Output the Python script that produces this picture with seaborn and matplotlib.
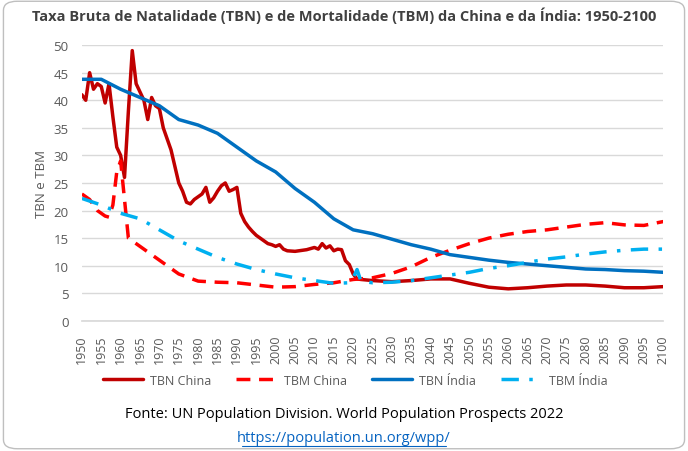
import matplotlib
matplotlib.use("Agg")
import matplotlib.pyplot as plt
import seaborn as sns
from matplotlib.patches import FancyBboxPatch

sns.set_theme(style="white")
plt.rcParams['font.family'] = ['Open Sans', 'DejaVu Sans']

cn_b_years = [1950,1951,1952,1953,1954,1955,1956,1957,1958,1959,1960,1961,1962,1963,1964,1965,1966,1967,1968,1969,
              1970,1971,1972,1973,1974,1975,1976,1977,1978,1979,1980,1981,1982,1983,1984,1985,1986,1987,1988,1989,
              1990,1991,1992,1993,1994,1995,1996,1997,1998,1999,2000,2001,2002,2003,2005,2008,2010,2011,2012,2013,
              2014,2015,2016,2017,2018,2019,2020,2021,2022,2025,2030,2035,2040,2045,2050,2055,2060,2065,2070,2075,
              2080,2085,2090,2095,2100]
cn_b = [41,40,45,42,43,42.5,39.5,43,37,31.5,30,26,38,49,43,41.5,40,36.5,40.5,39,
        38.5,35,33,31,28,25,23.5,21.5,21.2,22,22.5,23,24.2,21.5,22.3,23.5,24.5,25,23.5,23.8,
        24.2,19.5,18,17,16.2,15.5,15,14.5,14,13.8,13.5,13.8,13,12.7,12.6,12.9,13.3,13.0,14.0,13.2,
        13.6,12.7,13.0,12.9,10.9,10.2,8.5,7.6,7.5,7.3,7.1,7.3,7.6,7.6,6.8,6.1,5.8,6.0,6.3,6.5,
        6.5,6.3,6.0,6.0,6.2]
cn_d_years = [1950,1952,1954,1956,1957,1958,1959,1960,1961,1962,1963,1965,1970,1975,1980,1985,1990,1995,2000,2005,
              2010,2015,2020,2025,2030,2035,2040,2045,2050,2055,2060,2065,2070,2075,2080,2085,2090,2095,2100]
cn_d = [23,22,20,19,18.8,21,27,29,22,15,14.5,13.5,11,8.5,7.2,7.0,6.9,6.5,6.1,6.2,
        6.6,6.9,7.5,7.8,8.6,9.8,11.5,12.8,14,15,15.7,16.2,16.5,17,17.5,17.8,17.4,17.3,18]
in_b_years = list(range(1950, 2101, 5))
in_b = [43.8,43.8,42,40.5,39,36.5,35.5,34,31.5,29,27,24,21.5,18.5,16.5,15.8,14.8,13.8,13,12,
        11.5,11,10.6,10.3,10,9.7,9.4,9.3,9.1,9,8.8]
in_d_years = [1950,1955,1960,1965,1970,1975,1980,1985,1990,1995,2000,2005,2010,2015,2019,2020,2021,2022,2025,2030,
              2035,2040,2045,2050,2055,2060,2065,2070,2075,2080,2085,2090,2095,2100]
in_d = [22.2,21,19.5,18.5,16.5,14.5,13,11.5,10.3,9.3,8.5,7.8,7.3,6.8,6.9,7.8,9.3,7.2,6.9,7,
        7.3,7.8,8.3,8.8,9.5,10,10.6,11.2,11.6,12.1,12.5,12.8,13,13]

fig = plt.figure(figsize=(6.88, 4.52), dpi=100)
fig.patches.append(FancyBboxPatch((0.005, 0.005), 0.99, 0.99, boxstyle="round,pad=0,rounding_size=0.02",
                                  transform=fig.transFigure, fill=False, edgecolor="#bfbfbf", lw=1))
ax = fig.add_axes([0.119, 0.288, 0.845, 0.61])

series = [("TBN China", cn_b_years, cn_b, "#c00000", "-"),
          ("TBM China", cn_d_years, cn_d, "#ff0000", (0, (4, 2.5))),
          ("TBN Índia", in_b_years, in_b, "#0070c0", "-"),
          ("TBM Índia", in_d_years, in_d, "#00b0f0", (0, (5, 3, 1, 3)))]
for name, xs, ys, c, ls in series:
    sns.lineplot(x=xs, y=ys, ax=ax, color=c, lw=2.5, linestyle=ls, label=name)

ax.set_xlim(1950, 2100)
ax.set_ylim(0, 50)
ax.set_xticks(range(1950, 2101, 5))
ax.set_xticklabels([str(y) for y in range(1950, 2101, 5)], rotation=90, fontsize=9, color="#595959")
ax.set_yticks(range(0, 51, 5))
ax.tick_params(axis='y', labelsize=9.5, labelcolor="#595959")
ax.grid(axis='y', color="#d9d9d9", lw=1)
for s in ["top", "right", "left"]:
    ax.spines[s].set_visible(False)
ax.spines["bottom"].set_color("#d9d9d9")
ax.set_ylabel("TBN e TBM", fontsize=9.5, color="#595959")
ax.legend(loc="center", bbox_to_anchor=(0.47, -0.215), ncol=4, frameon=False, fontsize=9,
          handlelength=3.2, columnspacing=2.0, handletextpad=0.6, labelcolor="#595959")

fig.text(0.5, 0.965, "Taxa Bruta de Natalidade (TBN) e de Mortalidade (TBM) da China e da Índia: 1950-2100",
         ha="center", va="center", fontsize=10.5, fontweight="bold", color="#404040")
fig.text(0.5, 0.082, "Fonte: UN Population Division. World Population Prospects 2022",
         ha="center", va="center", fontsize=10.5, color="black")
fig.text(0.5, 0.03, "https://population.un.org/wpp/", ha="center", va="center", fontsize=10.5,
         color="#0563c1")
fig.lines.append(plt.Line2D([0.352, 0.648], [0.012, 0.012], transform=fig.transFigure, color="#0563c1", lw=0.8))
fig.savefig("out.png", dpi=100)
